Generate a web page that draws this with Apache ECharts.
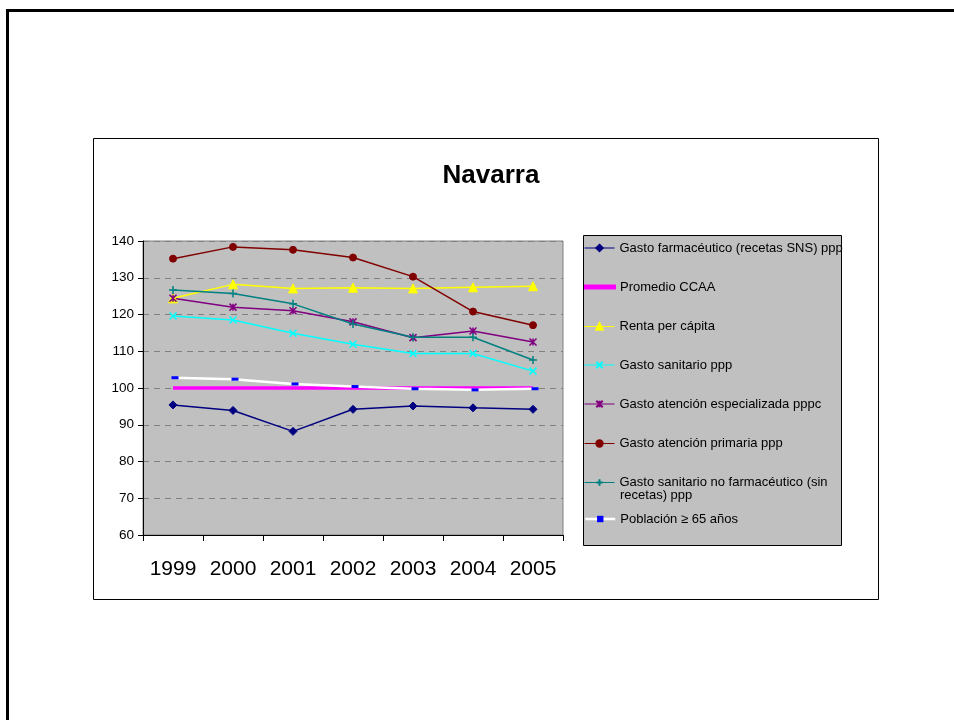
<!DOCTYPE html>
<html>
<head>
<meta charset="utf-8">
<script src="https://cdn.jsdelivr.net/npm/echarts@6/dist/echarts.min.js"></script>
<style>
html,body{margin:0;padding:0;background:#fff;}
#chart{width:954px;height:720px;}
</style>
</head>
<body>
<div id="chart"></div>
<script>
const years = ['1999','2000','2001','2002','2003','2004','2005'];
const yTicks = {min: 60, max: 140, interval: 10};
const farmaceutico = [95.4, 93.9, 88.2, 94.2, 95.1, 94.6, 94.2];
const promedio = [100, 100, 100, 100, 100, 100, 100];
const renta = [124.4, 128.2, 127.1, 127.3, 127.1, 127.4, 127.7];
const sanitario = [119.6, 118.5, 114.9, 111.9, 109.4, 109.4, 104.6];
const especializada = [124.4, 122.0, 121.0, 118.0, 113.7, 115.5, 112.5];
const primaria = [135.2, 138.4, 137.6, 135.5, 130.3, 120.8, 117.1];
const noFarmaceutico = [126.7, 125.7, 122.9, 117.4, 113.8, 113.8, 107.6];
const poblacion = [102.8, 102.4, 101.1, 100.4, 99.8, 99.5, 99.8];

const names = [
  'Gasto farmacéutico (recetas SNS) ppp',
  'Promedio CCAA',
  'Renta per cápita',
  'Gasto sanitario ppp',
  'Gasto atención especializada pppc',
  'Gasto atención primaria ppp',
  'Gasto sanitario no farmacéutico (sin recetas) ppp',
  'Población ≥ 65 años'
];
const wrapFirst = 'Gasto sanitario no farmacéutico (sin';
const wrapSecond = 'recetas) ppp';

const FONT = "'Liberation Sans', Arial, sans-serif";
const X_PATH = 'path://M0,0 L10,10 M10,0 L0,10';
const STAR_PATH = 'path://M0,0 L10,10 M10,0 L0,10 M5,0 L5,10';
const PLUS_PATH = 'path://M5,0 L5,10 M0,5 L10,5';

function lineSeries(name, data, color, lw, symbol, size, extra) {
  return Object.assign({
    name: name, type: 'line', data: data,
    symbol: symbol, symbolSize: size, showSymbol: symbol !== 'none',
    lineStyle: {color: color, width: lw},
    itemStyle: {color: color, borderColor: color, borderWidth: 1},
    emphasis: {disabled: true},
    animation: false
  }, extra || {});
}

const series = [
  lineSeries(names[0], farmaceutico, '#000080', 1.5, 'diamond', 8),
  lineSeries(names[1], promedio, '#FF00FF', 3.5, 'none', 0),
  lineSeries(names[2], renta, '#FFFF00', 1.5, 'triangle', 9),
  lineSeries(names[3], sanitario, '#00FFFF', 1.5, X_PATH, 7, {itemStyle: {color: '#00FFFF', borderColor: '#00FFFF', borderWidth: 1.5}}),
  lineSeries(names[4], especializada, '#800080', 1.5, STAR_PATH, 7, {itemStyle: {color: '#800080', borderColor: '#800080', borderWidth: 1.5}}),
  lineSeries(names[5], primaria, '#800000', 1.5, 'circle', 7),
  lineSeries(names[6], noFarmaceutico, '#008080', 1.5, PLUS_PATH, 8, {itemStyle: {color: '#008080', borderColor: '#008080', borderWidth: 1.5}}),
  lineSeries(names[7], poblacion, '#FFFFFF', 2.5, 'rect', [7, 3], {symbolOffset: [2, 0], itemStyle: {color: '#0000FF', borderWidth: 0}})
];

const legendCenters = [245.5, 284.5, 324, 362.5, 401.5, 441, 480, 516.5];
const legends = names.map(function (n, i) {
  const item = (i === 1) ? {name: n, icon: 'path://M0,0H30V3H0Z'} : {name: n};
  const lg = {
    data: [item], orient: 'vertical', left: 584, top: legendCenters[i] - 4,
    padding: 0, itemWidth: 30, itemHeight: 8, itemGap: 0,
    selectedMode: false, textStyle: {fontFamily: FONT, fontSize: 13, color: '#000'}, z: 10,
    lineStyle: {width: i === 7 ? 2.5 : 1}
  };
  if (i === 6) { lg.formatter = function () { return wrapFirst; }; }
  return lg;
});

const chart = echarts.init(document.getElementById('chart'), null, {renderer: 'canvas'});
chart.setOption({
  animation: false,
  backgroundColor: '#ffffff',
  title: {
    text: 'Navarra', left: 486, top: 158, textAlign: 'center',
    textStyle: {fontFamily: FONT, fontSize: 26, fontWeight: 'bold', color: '#000'}
  },
  graphic: [
    {type: 'rect', shape: {x: 7.5, y: 10.5, width: 1000, height: 800}, style: {fill: 'none', stroke: '#000', lineWidth: 3}, z: -10, silent: true},
    {type: 'rect', shape: {x: 93.5, y: 138.5, width: 785, height: 461}, style: {fill: 'none', stroke: '#000', lineWidth: 1}, z: -10, silent: true},
    {type: 'rect', shape: {x: 583.5, y: 235.5, width: 258, height: 310}, style: {fill: '#C0C0C0', stroke: '#000', lineWidth: 1}, z: -5, silent: true},
    {type: 'text', x: 620, y: 495, style: {text: wrapSecond, font: "13px 'Liberation Sans', Arial, sans-serif", fill: '#000', verticalAlign: 'middle'}, z: 10, silent: true}
  ],
  legend: legends,
  grid: {
    left: 143, top: 241, width: 420, height: 294,
    show: true, backgroundColor: '#C0C0C0', borderColor: '#808080', borderWidth: 1,
    containLabel: false
  },
  xAxis: {
    type: 'category', data: years, boundaryGap: true,
    axisLine: {show: true, lineStyle: {color: '#000', width: 1}},
    axisTick: {show: true, length: 6, interval: 0, lineStyle: {color: '#000'}},
    axisLabel: {fontFamily: FONT, fontSize: 21, color: '#000', margin: 24, interval: 0, hideOverlap: false},
    splitLine: {show: false}
  },
  yAxis: {
    type: 'value', min: yTicks.min, max: yTicks.max, interval: yTicks.interval,
    axisLine: {show: true, lineStyle: {color: '#000', width: 1}},
    axisTick: {show: true, length: 5, lineStyle: {color: '#000'}},
    axisLabel: {fontFamily: FONT, fontSize: 13.5, color: '#000', margin: 9},
    splitLine: {show: true, lineStyle: {color: '#808080', type: [6, 5], width: 1}}
  },
  series: series
});
</script>
</body>
</html>
